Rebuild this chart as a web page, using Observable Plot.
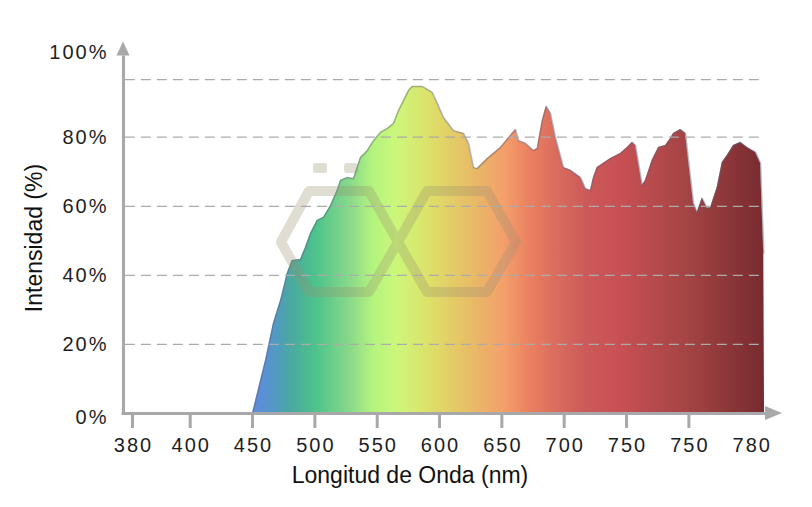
<!DOCTYPE html>
<html>
<head>
<meta charset="utf-8">
<script src="https://cdn.jsdelivr.net/npm/d3@7"></script>
<script src="https://cdn.jsdelivr.net/npm/@observablehq/plot@0.6"></script>
<style>
  html, body { margin: 0; padding: 0; background: #fff; }
  #chart { width: 812px; height: 507px; }
</style>
</head>
<body>
<div id="chart"></div>
<script>
// ---- data (axis coordinate in nm, intensity in %) ----
const wavelength = [450.0, 460.4, 466.8, 472.5, 477.8, 481.8, 488.5, 492.5, 496.5, 501.9,
  507.0, 512.6, 517.9, 520.6, 526.0, 531.0, 536.6, 542.0, 547.1, 552.7,
  558.0, 563.1, 567.1, 571.1, 575.1, 578.1, 586.1, 594.1, 598.2, 603.2,
  611.2, 619.2, 623.3, 627.3, 630.2, 638.3, 648.9, 656.9, 661.0, 663.4,
  669.0, 675.4, 678.4, 682.4, 685.6, 689.0, 693.0, 699.5, 705.1, 713.1,
  717.1, 721.1, 723.5, 726.5, 737.2, 745.2, 750.6, 754.6, 757.2, 762.6,
  765.2, 770.6, 775.7, 781.3, 785.3, 787.7, 793.3, 797.3, 799.7, 803.7,
  806.7, 810.7, 814.7, 817.4, 822.7, 826.8, 830.8, 835.8, 841.4, 846.8,
  853.5, 857.5, 858.8, 860.1, 860.7];
const intensity = [0, 15.3, 26.1, 32.7, 40.5, 44.3, 44.6, 48.1, 52.1, 55.9,
  56.8, 60.2, 64.6, 67.5, 68.3, 68.0, 74.1, 76.1, 79.0, 81.4,
  82.5, 84.0, 87.7, 90.6, 93.5, 94.7, 94.7, 93.0, 89.8, 85.7,
  81.9, 81.1, 78.2, 71.2, 70.9, 73.8, 77.0, 80.5, 82.2, 79.0,
  78.2, 76.1, 76.7, 84.8, 88.9, 86.9, 79.9, 71.2, 70.4, 68.3,
  65.1, 64.6, 68.3, 71.2, 73.8, 75.3, 77.0, 78.5, 77.6, 66.0,
  67.5, 73.3, 77.0, 77.6, 79.6, 81.1, 82.2, 81.1, 73.3, 60.8,
  58.2, 62.3, 59.4, 59.6, 65.4, 72.7, 74.7, 77.6, 78.5, 77.0,
  75.6, 72.4, 58.8, 46.3, 0];

// x tick positions on the axis and the labels printed there
const xTickPositions = [353.7, 400, 450, 500, 550, 600, 650, 700, 750, 800, 850];
const xTickLabels = ["380", "400", "450", "500", "550", "600", "650", "700", "750", "750", "780"];
// y label positions and labels
const yLabelPositions = [-1.3, 20, 40, 60, 80, 104.5];
const yLabelTexts = ["0%", "20%", "40%", "60%", "80%", "100%"];
const gridValues = [20, 40, 60, 80, 96.7];

// spectrum gradient stops
const gradientNm = [450, 456.4, 468.4, 480.5, 502.1, 528.6, 547.1, 566.3, 590.4, 614.4,
  632.9, 651.3, 673.0, 691.4, 717.1, 745.2, 798.9, 851.9, 860.7];
const gradientColors = ["#5a8edc", "#5c8ed8", "#5299c4", "#4aa8a0", "#4ec48a", "#8ad98a",
  "#b4f47e", "#ccf77a", "#dce26a", "#e4c866", "#eab468", "#f4a06c", "#ea8060",
  "#dc6e5e", "#cc5a5a", "#c85054", "#a44444", "#7e2e32", "#782a2e"];

const xTitle = "Longitud de Onda (nm)";
const yTitle = "Intensidad (%)";

// ---- build ----
const spectrum = wavelength.map((w, i) => ({nm: w, pct: intensity[i]}));
const edge = spectrum.slice(0, -1);
const xLabelOf = new Map(xTickPositions.map((p, i) => [p, xTickLabels[i]]));
const yLabelOf = new Map(yLabelPositions.map((p, i) => [p, yLabelTexts[i]]));

const AXIS = "#a8a8aa";
const FONT = "'Liberation Sans', Arial, Helvetica, sans-serif";

const svg = Plot.plot({
  width: 812,
  height: 507,
  marginLeft: 123,
  marginRight: 32,
  marginTop: 40,
  marginBottom: 94,
  x: {domain: [346.5, 873.5], axis: null, label: null},
  y: {domain: [0, 108], axis: null, label: null},
  style: {fontFamily: FONT, background: "#fff", overflow: "visible"},
  marks: [
    Plot.areaY(spectrum, {x: "nm", y: "pct", fill: "url(#spectrum)"}),
    Plot.lineY(edge, {x: "nm", y: "pct", stroke: "#5a5f78", strokeOpacity: 0.45, strokeWidth: 1.5}),
    Plot.ruleY(gridValues, {x1: 348, x2: 861.5, stroke: "#ababab", strokeWidth: 1.3, strokeDasharray: "10,6"}),
    // x tick marks
    Plot.axisX(xTickPositions.slice(0, -1), {tickSize: 15, tickFormat: () => "", label: null,
      stroke: AXIS, strokeWidth: 3}),
    // x tick labels
    Plot.axisX(xTickPositions, {tickSize: 0, tickPadding: 24, dx: 1, fontSize: 20, fill: "#1e1e1e",
      label: null, tickFormat: d => xLabelOf.get(d)}),
    // y tick labels
    Plot.axisY(yLabelPositions, {anchor: "left", tickSize: 0, tickPadding: 15, fontSize: 20, fill: "#1e1e1e",
      label: null, tickFormat: d => yLabelOf.get(d)}),
    // axis lines
    Plot.ruleY([0], {x1: 345.3, x2: 861.5, stroke: AXIS, strokeWidth: 3}),
    Plot.ruleX([346.5], {y1: 0, y2: 103.5, stroke: AXIS, strokeWidth: 3}),
    // titles
    Plot.text([xTitle], {frameAnchor: "bottom", textAnchor: "middle", lineAnchor: "middle",
      dx: -42, dy: 62, fontSize: 23, fill: "#111", text: d => d}),
    Plot.text([yTitle], {frameAnchor: "left", textAnchor: "middle", lineAnchor: "middle",
      dx: -89, dy: 11, rotate: -90, fontSize: 23, fill: "#111", text: d => d})
  ]
});

const xs = svg.scale("x"), ys = svg.scale("y");
const sel = d3.select(svg);

// gradient
const defs = sel.insert("defs", ":first-child");
const grad = defs.append("linearGradient")
  .attr("id", "spectrum")
  .attr("gradientUnits", "userSpaceOnUse")
  .attr("x1", xs.apply(gradientNm[0])).attr("x2", xs.apply(gradientNm[gradientNm.length - 1]))
  .attr("y1", 0).attr("y2", 0);
const g0 = gradientNm[0], g1 = gradientNm[gradientNm.length - 1];
gradientNm.forEach((v, i) => {
  grad.append("stop").attr("offset", (v - g0) / (g1 - g0)).attr("stop-color", gradientColors[i]);
});

// letter spacing for tick labels
sel.selectAll('g[aria-label$="tick label"]').attr("letter-spacing", 2);

// arrowheads
const x0 = xs.apply(346.5), yb = ys.apply(0);
const yTop = ys.apply(103.5), xEnd = xs.apply(861.5);
sel.append("path").attr("d", `M${x0 - 6.5},${yTop} L${x0},${yTop - 14} L${x0 + 6.5},${yTop} Z`).attr("fill", AXIS);
sel.append("path").attr("d", `M${xEnd},${yb - 7} L${xEnd + 17},${yb} L${xEnd},${yb + 7} Z`).attr("fill", AXIS);

// watermark logo (decoration), placed above the area, below gridlines
const gridGroup = sel.select('g[aria-label="rule"]').node();
const wm = d3.create("svg:g").attr("opacity", 0.3).attr("fill", "none").attr("stroke", "#9a9070")
  .attr("stroke-width", 10).attr("stroke-linejoin", "round").attr("stroke-linecap", "round");
wm.append("path").attr("d",
  "M398,242 L427,191 L487,191 L516,242 L487,292 L427,292 Z M398,242 L369,191 L309,191 L281,242 L309,292 L369,292 Z");
wm.append("rect").attr("x", 313).attr("y", 163).attr("width", 14).attr("height", 10).attr("rx", 3)
  .attr("fill", "#9a9070").attr("stroke", "none");
wm.append("rect").attr("x", 344).attr("y", 163).attr("width", 14).attr("height", 10).attr("rx", 3)
  .attr("fill", "#9a9070").attr("stroke", "none");
svg.insertBefore(wm.node(), gridGroup);

document.getElementById("chart").appendChild(svg);
</script>
</body>
</html>
